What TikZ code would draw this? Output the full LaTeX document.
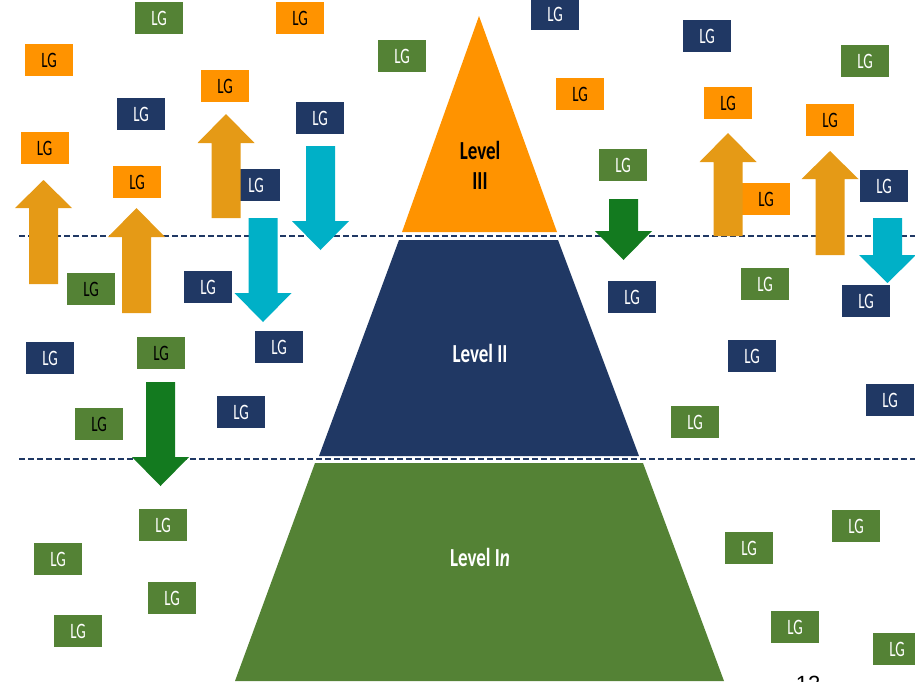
\documentclass[tikz,border=0pt]{standalone}
\usepackage{fontspec}
\usepackage{graphicx}
\setmainfont{Carlito}
\newfontfamily\numfont{Liberation Sans}
\definecolor{boxorange}{HTML}{FF9300}
\definecolor{arrgold}{HTML}{E59A16}
\definecolor{navy}{HTML}{203864}
\definecolor{lggreen}{HTML}{548235}
\definecolor{cyanarr}{HTML}{00B0C7}
\definecolor{darkgreen}{HTML}{137A1F}
\newcommand\LGt{\scalebox{0.68}[1]{LG}}
\newcommand\lvl[1]{\scalebox{0.73}[1]{#1}}
\newcommand\uparr[5]{% colour, cx, apex, head base, bottom
  \fill[#1] (#2-14.5,#5) -- (#2-14.5,#4) -- (#2-28.5,#4) -- (#2,#3) -- (#2+28.5,#4) -- (#2+14.5,#4) -- (#2+14.5,#5) -- cycle;}
\newcommand\downarr[5]{% colour, cx, top, head base, tip
  \fill[#1] (#2-14.5,#3) -- (#2-14.5,#4) -- (#2-28.5,#4) -- (#2,#5) -- (#2+28.5,#4) -- (#2+14.5,#4) -- (#2+14.5,#3) -- cycle;}
\tikzset{
  lgbox/.style={rectangle, minimum width=48pt, minimum height=32pt, inner sep=0pt,
    font=\fontsize{22}{22}\selectfont},
  lgO/.style={lgbox, fill=boxorange, text=black},
  lgB/.style={lgbox, fill=navy, text=white},
  lgG/.style={lgbox, fill=lggreen, text=white},
  lgGk/.style={lgbox, fill=lggreen, text=black},
  lvltext/.style={inner sep=0pt, font=\fontsize{26}{26}\selectfont\bfseries},
  sepline/.style={draw=navy, line width=2.2pt, dash pattern=on 6pt off 3pt}
}
\begin{document}
\begin{tikzpicture}[x=1pt, y=-1pt]
\useasboundingbox (0,0) rectangle (915,681);
% pyramid
\fill[boxorange] (479,16) -- (557,232) -- (402,232) -- cycle;
\fill[navy] (399,240) -- (558,240) -- (639,456) -- (319,456) -- cycle;
\fill[lggreen] (315,463) -- (643,463) -- (724,681) -- (235,681) -- cycle;
\node[lvltext, text=black] (l3a) at (480,150) {\lvl{Level}};
\node[lvltext, text=black] (l3b) at (480,181) {\lvl{III}};
\node[lvltext, text=white] (l2) at (480,353) {\lvl{Level II}};
\node[lvltext, text=white] (l1) at (480,557) {\lvl{Level I\textit{n}}};
% separators
\coordinate (s1l) at (19,236); \coordinate (s1r) at (915,236);
\coordinate (s2l) at (19,459); \coordinate (s2r) at (915,459);
\draw[sepline] (s1l) -- (s1r);
\draw[sepline] (s2l) -- (s2r);
% boxes
\node[lgG] (b1) at (159,18) {\LGt};
\node[lgO] (b2) at (300,18) {\LGt};
\node[lgO] (b3) at (49,60) {\LGt};
\node[lgG] (b4) at (402,56) {\LGt};
\node[lgB] (b5) at (141,114) {\LGt};
\node[lgO] (b6) at (225,86) {\LGt};
\node[lgB] (b7) at (320,118) {\LGt};
\node[lgO] (b8) at (44.5,148) {\LGt};
\node[lgO] (b9) at (137,182) {\LGt};
\node[lgB] (b10) at (256,185) {\LGt};
\node[lgGk] (b11) at (91,289) {\LGt};
\node[lgB] (b12) at (208,287) {\LGt};
\node[lgB] (b13) at (555,14) {\LGt};
\node[lgB] (b14) at (707,36) {\LGt};
\node[lgG] (b15) at (865,61) {\LGt};
\node[lgO] (b16) at (580,94) {\LGt};
\node[lgO] (b17) at (728,103) {\LGt};
\node[lgO] (b18) at (830,120) {\LGt};
\node[lgG] (b19) at (623,165) {\LGt};
\node[lgO] (b20) at (766,199) {\LGt};
\node[lgB] (b21) at (884,186) {\LGt};
\node[lgB] (b22) at (632,297) {\LGt};
\node[lgG] (b23) at (765,284) {\LGt};
\node[lgB] (b24) at (866,301) {\LGt};
\node[lgB] (b25) at (50,358) {\LGt};
\node[lgGk] (b26) at (161,353) {\LGt};
\node[lgB] (b27) at (279,347) {\LGt};
\node[lgGk] (b28) at (99,424) {\LGt};
\node[lgB] (b29) at (241,412) {\LGt};
\node[lgG] (b30) at (163,525) {\LGt};
\node[lgG] (b31) at (58,559) {\LGt};
\node[lgG] (b32) at (172,598) {\LGt};
\node[lgG] (b33) at (78,631) {\LGt};
\node[lgB] (b34) at (752,356) {\LGt};
\node[lgB] (b35) at (890,400) {\LGt};
\node[lgG] (b36) at (695,422) {\LGt};
\node[lgG] (b37) at (856,526) {\LGt};
\node[lgG] (b38) at (749,548) {\LGt};
\node[lgG] (b39) at (795,627) {\LGt};
\node[lgG] (b40) at (897,649) {\LGt};
% block arrows
\uparr{arrgold}{43.5}{180}{208}{284}
\uparr{arrgold}{136.5}{208}{237}{313}
\uparr{arrgold}{226}{114}{143}{218}
\uparr{arrgold}{728}{133}{162}{236}
\uparr{arrgold}{830}{151}{179}{255}
\downarr{cyanarr}{320.5}{146}{221}{250}
\downarr{cyanarr}{263}{218}{293}{322}
\downarr{cyanarr}{887.5}{218}{255}{283}
\downarr{darkgreen}{623.5}{199}{231}{260}
\downarr{darkgreen}{160.5}{382}{457}{486}
% page number (cut off at the page edge, as in the reference)
\node[anchor=north, inner sep=0pt, font=\numfont\fontsize{22}{22}\selectfont] (pg) at (808,675.5) {12};
\end{tikzpicture}
\end{document}
